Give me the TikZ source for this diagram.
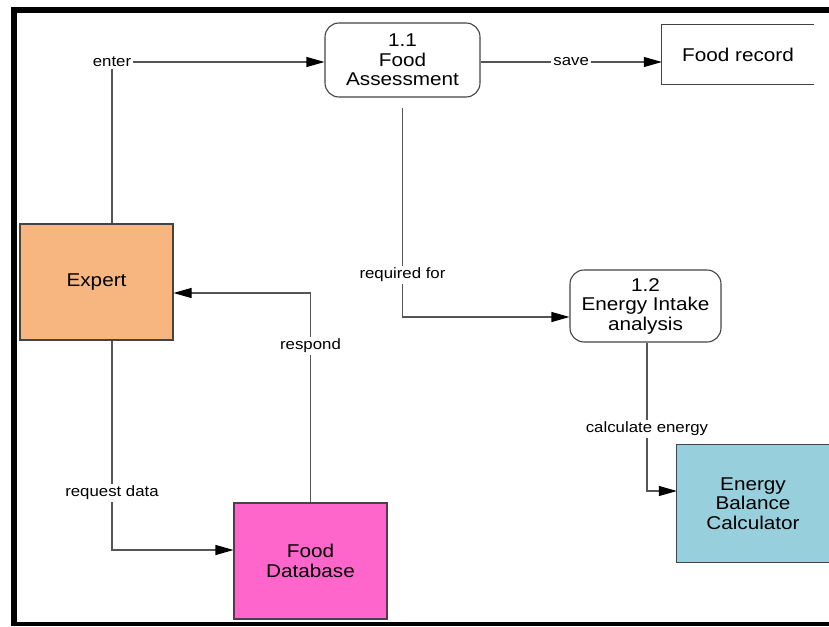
\documentclass[tikz,border=0pt]{standalone}
\usepackage{fontspec}
\setmainfont{Liberation Sans}[FakeStretch=1.12]
\usetikzlibrary{arrows.meta}

\definecolor{boxline}{HTML}{444444}
\definecolor{flowline}{HTML}{555555}
\definecolor{expertfill}{HTML}{F7B680}
\definecolor{dbfill}{HTML}{FF66CC}
\definecolor{calcfill}{HTML}{97CFDC}

\begin{document}
\begin{tikzpicture}[x=1pt,y=-1pt,
  box/.style={draw=boxline, line width=1.1pt, inner sep=0pt, align=center,
    text=black, font=\fontsize{18.5}{19.5}\selectfont},
  process/.style={box, rounded corners=14pt},
  store/.style={inner sep=0pt, align=center, text=black,
    font=\fontsize{18.5}{19.5}\selectfont},
  flow/.style={draw=flowline, line width=1.1pt,
    -{Triangle[length=18pt,width=10pt,color=black]}},
  lbl/.style={fill=white, inner sep=2pt, text=black,
    font=\fontsize{15}{16}\selectfont}
]
\useasboundingbox (0,0) rectangle (829,626);
\clip (0,0) rectangle (829,626);

% frame
\fill (11,7) rectangle (829,13);
\fill (11,7) rectangle (17,626);
\fill (11,621.5) rectangle (829,626);

% processes, entities and store
\node[process, minimum width=155pt, minimum height=74pt] (fa) at (402.5,60)
  {1.1\\Food\\Assessment};
\node[process, minimum width=151pt, minimum height=72pt] (eia) at (645.5,306)
  {1.2\\Energy Intake\\analysis};
\node[box, fill=expertfill, minimum width=153pt, minimum height=116pt] (expert)
  at (96.5,282) {Expert};
\node[box, fill=dbfill, minimum width=153pt, minimum height=116pt] (fdb)
  at (310.5,561) {Food\\Database};
% the calculator box runs on past the right edge of the page
\node[store, minimum width=152pt, minimum height=117pt] (ebc) at (753,503.5)
  {\phantom{Calculator}};
\filldraw[fill=calcfill, draw=boxline, line width=1.1pt]
  (ebc.north west) rectangle ([xshift=12pt]ebc.south east);
\node[store] at (ebc.center) {Energy\\Balance\\Calculator};
\node[store, minimum width=152pt, minimum height=59pt] (foodrec) at (738,54.5)
  {Food record};
\draw[boxline, line width=1.1pt] (foodrec.north east) -- (foodrec.north west)
  -- (foodrec.south west) -- (foodrec.south east);

% data flows
\draw[flow] ([xshift=15.5pt]expert.north) |- ([yshift=-2pt]fa.west)
  node[lbl, pos=0.5] {enter};
\draw[flow] ([yshift=-2pt]fa.east) -- ([yshift=-2pt]fa.east -| foodrec.west)
  node[lbl, midway] {save};
\draw[flow] ([yshift=-10pt]fa.south) |- ([yshift=-11pt]eia.west)
  node[lbl, pos=0.4] {required for};
\draw[flow] ([xshift=1.5pt]eia.south) |- ([yshift=12.5pt]ebc.west)
  node[lbl, pos=0.29] {calculate energy};
\draw[flow] (fdb.north) |- ([yshift=-11pt]expert.east)
  node[lbl, pos=0.374] {respond};
\draw[flow] ([xshift=15.5pt]expert.south) |- ([yshift=11pt]fdb.west)
  node[lbl, pos=0.364] {request data};
\end{tikzpicture}
\end{document}
